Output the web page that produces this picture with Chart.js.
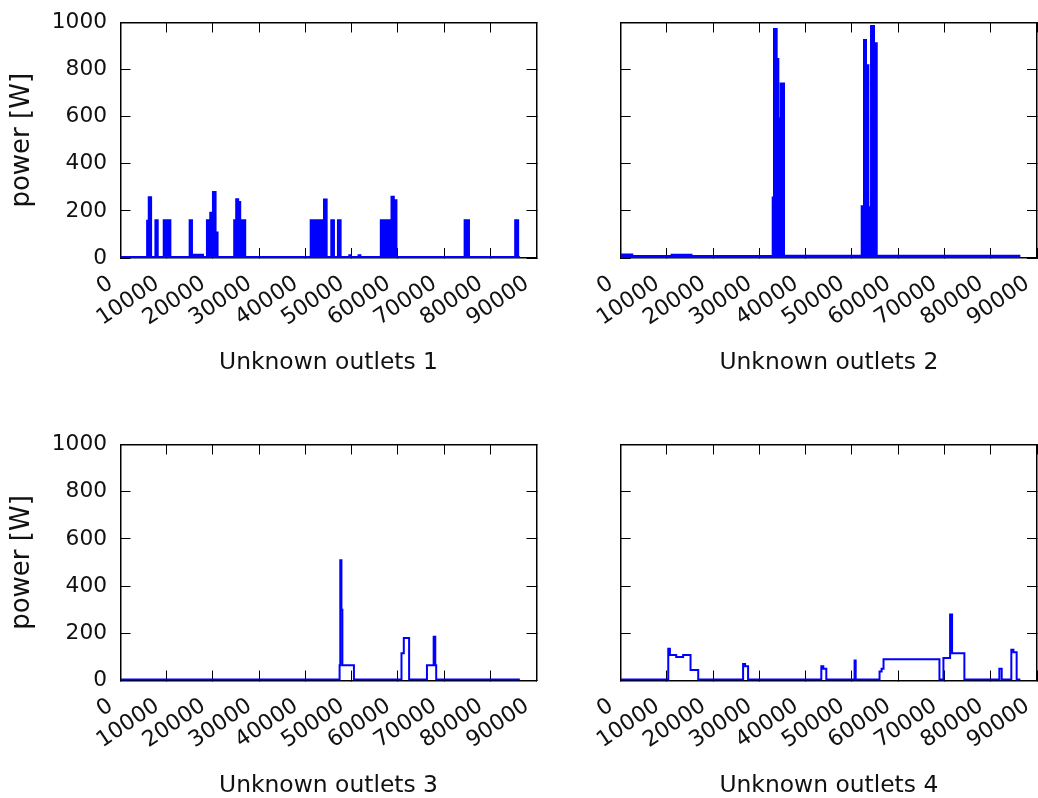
<!DOCTYPE html>
<html>
<head>
<meta charset="utf-8">
<title>Unknown outlets</title>
<script src="https://cdn.jsdelivr.net/npm/chart.js@4.4.0/dist/chart.umd.min.js"></script>
<style>
  body { margin: 0; background: #fff; }
  #fig { position: relative; width: 1038px; height: 798px; }
  #fig canvas { position: absolute; left: 0; top: 0; }
</style>
</head>
<body>
<div id="fig">
  <canvas id="outlet1" width="1038" height="798"></canvas>
  <canvas id="outlet2" width="1038" height="798"></canvas>
  <canvas id="outlet3" width="1038" height="798"></canvas>
  <canvas id="outlet4" width="1038" height="798"></canvas>
</div>
<script>
const xTicks = [0, 10000, 20000, 30000, 40000, 50000, 60000, 70000, 80000, 90000];
const yTicks = [0, 200, 400, 600, 800, 1000];
const panelTitles = ['Unknown outlets 1', 'Unknown outlets 2', 'Unknown outlets 3', 'Unknown outlets 4'];

// step data: time [s] where a level starts, power [W] held until the next time
const outlet1Time = [0, 5760, 6110, 6620, 7550, 8050, 9350, 9900, 10250, 10790, 14960, 15460, 17850,
  18700, 19420, 20000, 20570, 21000, 24600, 25030, 25460, 25900, 26300, 26500, 26980,
  41150, 41870, 42300, 43020, 43300, 44020, 44600, 45600, 46180, 47040, 47620, 49500, 49800,
  51500, 51900, 56320, 56900, 57200, 58630, 59130, 59700, 74450, 75390, 85390, 86030, 86400];
const outlet1Power = [4, 158, 258, 4, 160, 4, 160, 4, 160, 4, 160, 14, 4,
  160, 192, 280, 108, 4, 160, 250, 238, 160, 4, 160, 4,
  160, 4, 160, 4, 160, 248, 4, 160, 4, 160, 4, 12, 4,
  12, 4, 160, 4, 160, 260, 245, 4, 160, 4, 160, 4, 4];

const outlet2Time = [0, 2500, 11000, 15300, 32860, 33140, 33720, 34080, 34590, 35310,
  52100, 52600, 53030, 53540, 54120, 54760, 55350, 86400];
const outlet2Power = [15, 9, 14, 9, 257, 972, 845, 592, 741, 10,
  220, 926, 818, 215, 985, 912, 10, 10];

const outlet3Time = [0, 47400, 47550, 47800, 48000, 50500, 60790, 61290, 62440,
  66300, 67750, 68100, 68300, 86400];
const outlet3Power = [4, 65, 510, 300, 65, 4, 115, 180, 4,
  65, 185, 65, 4, 4];

const outlet4Time = [0, 10280, 10640, 12000, 13500, 15100, 16760, 26460, 26900, 27540,
  43370, 43800, 44450, 50560, 50800, 55960, 56400, 56820, 68910, 69770, 71210, 71640, 74300,
  81860, 82370, 84450, 84900, 85600, 86400];
const outlet4Power = [4, 135, 108, 100, 108, 45, 4, 70, 60, 4,
  60, 50, 4, 85, 4, 38, 50, 90, 4, 95, 280, 115, 4,
  50, 4, 130, 120, 4, 4];

const TICK_FONT = { family: 'DejaVu Sans', size: 21.7 };
const XTICK_FONT = { family: 'DejaVu Sans', size: 22 };
const XTITLE_FONT = { family: 'DejaVu Sans', size: 23.4 };
const YTITLE_FONT = { family: 'DejaVu Sans', size: 26 };
Chart.defaults.color = '#111';

function fixSize(prop, value) {
  return function(scale) {
    scale[prop] = value;
    scale.paddingLeft = 0;
    scale.paddingRight = 0;
    scale.paddingTop = 0;
    scale.paddingBottom = 0;
  };
}

function drawPanel(id, time, power, title, area, withYLabels, filled) {
  const yWidth = withYLabels ? 118 : 0;
  const xHeight = 109;
  const points = time.map((t, i) => ({ x: t, y: power[i] }));
  // matplotlib classic look: ticks pointing inward on all four spines
  const inward = { drawOnChartArea: false, drawTicks: true, tickLength: -10, color: '#000', lineWidth: 1 };
  const spine = { display: true, color: '#000', width: 1.5 };
  const setX = s => { s.ticks = xTicks.map(v => ({ value: v })); };
  const setY = s => { s.ticks = yTicks.map(v => ({ value: v })); };

  new Chart(document.getElementById(id), {
    type: 'line',
    data: {
      datasets: [{
        data: points,
        borderColor: '#0000ff',
        backgroundColor: '#0000ff',
        borderWidth: 2,
        pointRadius: 0,
        stepped: true,
        fill: filled ? 'origin' : false
      }]
    },
    options: {
      responsive: false,
      animation: false,
      devicePixelRatio: 1,
      events: [],
      layout: {
        padding: {
          left: area.left - yWidth,
          top: area.top,
          right: 1038 - area.right,
          bottom: 798 - area.bottom - xHeight
        }
      },
      plugins: { legend: { display: false }, tooltip: { enabled: false } },
      scales: {
        x: {
          type: 'linear', position: 'bottom', min: 0, max: 90000,
          afterBuildTicks: setX,
          afterFit: fixSize('height', xHeight),
          grid: inward, border: spine,
          ticks: { font: XTICK_FONT, padding: 22.5, labelOffset: -9.5, maxRotation: 34, minRotation: 34,
            autoSkip: false, callback: v => String(v) },
          title: { display: true, text: title, font: XTITLE_FONT, padding: { top: 0, bottom: -10 } }
        },
        xTop: {
          type: 'linear', position: 'top', min: 0, max: 90000,
          afterBuildTicks: setX,
          afterFit: fixSize('height', 0),
          grid: inward, border: spine,
          ticks: { display: false }
        },
        y: {
          type: 'linear', position: 'left', min: 0, max: 1000,
          afterBuildTicks: setY,
          afterFit: fixSize('width', yWidth),
          grid: inward, border: spine,
          ticks: { display: withYLabels, font: TICK_FONT, padding: 23.5, callback: v => String(v) },
          title: { display: withYLabels, text: 'power [W]', font: YTITLE_FONT, padding: { top: 4, bottom: 4 } }
        },
        yRight: {
          type: 'linear', position: 'right', min: 0, max: 1000,
          afterBuildTicks: setY,
          afterFit: fixSize('width', 0),
          grid: inward, border: spine,
          ticks: { display: false }
        }
      }
    }
  });
}

document.addEventListener('DOMContentLoaded', function() {
  drawPanel('outlet1', outlet1Time, outlet1Power, panelTitles[0],
    { left: 120.5, top: 22.5, right: 536.5, bottom: 258 }, true, true);
  drawPanel('outlet2', outlet2Time, outlet2Power, panelTitles[1],
    { left: 620.7, top: 22.5, right: 1037, bottom: 258 }, false, true);
  drawPanel('outlet3', outlet3Time, outlet3Power, panelTitles[2],
    { left: 120.5, top: 444.5, right: 536.5, bottom: 680.5 }, true, false);
  drawPanel('outlet4', outlet4Time, outlet4Power, panelTitles[3],
    { left: 620.7, top: 444.5, right: 1037, bottom: 680.5 }, false, false);
});
</script>
</body>
</html>
